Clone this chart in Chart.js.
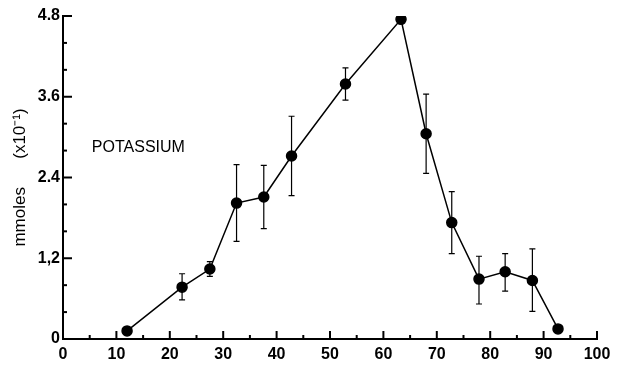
<!DOCTYPE html>
<html>
<head>
<meta charset="utf-8">
<script src="https://cdn.jsdelivr.net/npm/chart.js@4.4.1/dist/chart.umd.min.js"></script>
<style>
  html, body { margin: 0; padding: 0; background: #fff; }
  #wrap { width: 617px; height: 367px; }
</style>
</head>
<body>
<div id="wrap"><canvas id="potChart" width="617" height="367"></canvas></div>
<script>
// time (x) and potassium (mmoles x10^-1)
const xValues = [12, 22.3, 27.5, 32.5, 37.6, 42.8, 52.9, 63.3, 68, 72.8, 77.9, 82.8, 87.9, 92.7];
const yValues = [0.12, 0.77, 1.04, 2.02, 2.11, 2.72, 3.79, 4.75, 3.05, 1.73, 0.89, 1.00, 0.87, 0.15];
const errLow  = [null, 0.58, 0.93, 1.45, 1.64, 2.13, 3.55, null, 2.46, 1.27, 0.52, 0.71, 0.41, null];
const errHigh = [null, 0.97, 1.15, 2.59, 2.58, 3.31, 4.03, null, 3.64, 2.19, 1.23, 1.27, 1.34, null];

const xTicks = [0, 10, 20, 30, 40, 50, 60, 70, 80, 90, 100];
const yTicks = [0, 1.2, 2.4, 3.6, 4.8];
const yTickLabels = ["0", "1,2", "2.4", "3.6", "4.8"];
const seriesLabel = "POTASSIUM";

const font = "'Liberation Sans', Arial, sans-serif";

// error bars, inner tick marks and the series label
const extras = {
  id: "extras",
  beforeDatasetsDraw(chart) {
    const { ctx, scales: { x, y } } = chart;
    ctx.save();
    ctx.strokeStyle = "#000";
    ctx.lineWidth = 1.2;
    xValues.forEach((xv, i) => {
      if (errLow[i] == null) return;
      const px = x.getPixelForValue(xv);
      const top = y.getPixelForValue(errHigh[i]);
      const bot = y.getPixelForValue(errLow[i]);
      ctx.beginPath();
      ctx.moveTo(px, top); ctx.lineTo(px, bot);
      ctx.moveTo(px - 3, top); ctx.lineTo(px + 3, top);
      ctx.moveTo(px - 3, bot); ctx.lineTo(px + 3, bot);
      ctx.stroke();
    });
    ctx.restore();
  },
  afterDraw(chart) {
    const { ctx, scales: { x, y } } = chart;
    ctx.save();
    ctx.strokeStyle = "#000";
    ctx.lineWidth = 2;
    const base = y.getPixelForValue(0);
    for (let v = 5; v <= 100; v += 5) {
      const px = x.getPixelForValue(v);
      const len = v % 10 === 0 ? 8 : 4;
      ctx.beginPath();
      ctx.moveTo(px, base); ctx.lineTo(px, base - len);
      ctx.stroke();
    }
    const left = x.getPixelForValue(0);
    for (let k = 1; k <= 12; k++) {
      const py = y.getPixelForValue(k * 0.4);
      const len = k % 3 === 0 ? 9 : 4;
      ctx.beginPath();
      ctx.moveTo(left, py); ctx.lineTo(left + len, py);
      ctx.stroke();
    }
    ctx.fillStyle = "#000";
    ctx.font = "16px " + font;
    ctx.textAlign = "left";
    ctx.textBaseline = "middle";
    ctx.fillText(seriesLabel, x.getPixelForValue(5.4), y.getPixelForValue(2.85));
    ctx.restore();
  }
};

new Chart(document.getElementById("potChart"), {
  type: "scatter",
  data: {
    datasets: [{
      data: xValues.map((v, i) => ({ x: v, y: yValues[i] })),
      showLine: true,
      borderColor: "#000",
      borderWidth: 1.5,
      backgroundColor: "#000",
      pointRadius: 5,
      pointHoverRadius: 5
    }]
  },
  options: {
    responsive: false,
    animation: false,
    layout: { padding: { top: 16, right: 20, left: 0, bottom: 0 } },
    plugins: { legend: { display: false }, tooltip: { enabled: false } },
    scales: {
      x: {
        type: "linear",
        min: 0,
        max: 100,
        afterBuildTicks: s => { s.ticks = xTicks.map(v => ({ value: v })); },
        afterFit: s => { s.height = 28; },
        grid: { drawOnChartArea: false, drawTicks: false },
        border: { color: "#000", width: 2 },
        ticks: { color: "#000", padding: 6, font: { family: font, size: 16, weight: "bold" }, maxRotation: 0 }
      },
      y: {
        min: 0,
        max: 4.8,
        afterBuildTicks: s => { s.ticks = yTicks.map(v => ({ value: v })); },
        afterFit: s => { s.width = 63; },
        grid: { drawOnChartArea: false, drawTicks: false },
        border: { color: "#000", width: 2 },
        ticks: {
          color: "#000",
          padding: 3,
          font: { family: font, size: 16, weight: "bold" },
          callback: v => yTickLabels[yTicks.indexOf(v)] ?? ""
        },
        title: {
          display: true,
          text: "mmoles      (x10\u207B\u00B9)",
          color: "#000",
          font: { family: font, size: 17 },
          padding: { top: 10, bottom: 0 }
        }
      }
    }
  },
  plugins: [extras]
});
</script>
</body>
</html>
